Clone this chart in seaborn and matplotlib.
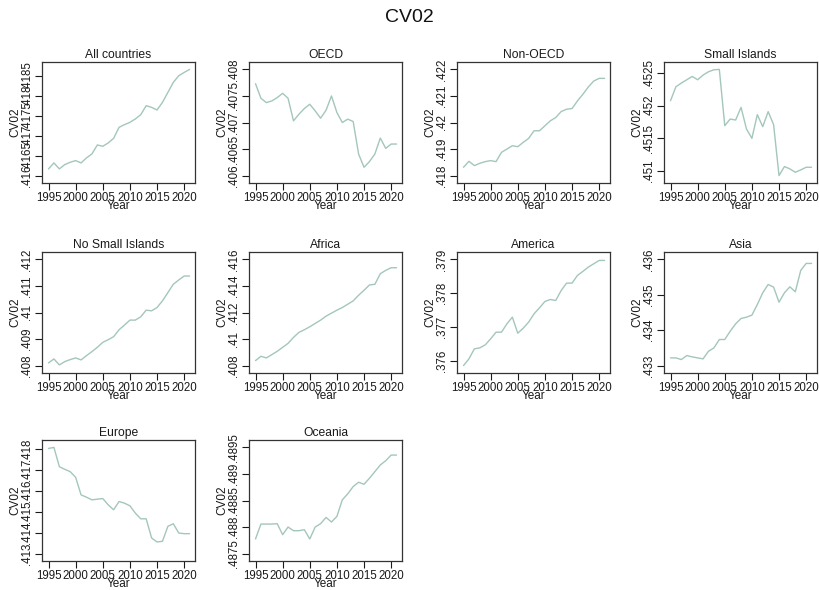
import pandas as pd
import seaborn as sns
import matplotlib
matplotlib.use("Agg")
import matplotlib.pyplot as plt
from matplotlib.ticker import FuncFormatter

years = list(range(1995, 2022))

all_countries = [.416167, .416317, .416167, .416275, .416333, .416375, .416317, .416442, .416542,
                 .416767, .416733, .416817, .416933, .417208, .417275, .417333, .417417, .417525,
                 .41775, .417708, .417642, .417833, .418083, .418333, .4185, .418583, .418658]
oecd = [.407731, .407456, .407375, .407406, .407469, .40755, .407456, .407031, .407156,
        .407263, .407344, .407219, .407081, .407231, .4075, .407188, .407, .407063,
        .407019, .406406, .406156, .406263, .406406, .406706, .406513, .406594, .406594]
non_oecd = [.418313, .418538, .418375, .418463, .418525, .418563, .418525, .418875, .419,
            .419125, .419088, .41925, .4194, .419688, .419688, .419875, .420063, .420188,
            .420413, .4205, .420525, .420813, .421063, .421338, .421563, .421663, .421663]
small_islands = [.452077, .452292, .452349, .4524, .452451, .4524, .452472, .452523, .452554,
                 .452559, .451692, .451795, .451779, .451974, .451641, .451497, .451862, .451677,
                 .451908, .451708, .450923, .451062, .451026, .450974, .45101, .451051, .451051]
no_small_islands = [.4081, .40825, .408025, .40815, .408225, .408288, .408213, .408375, .408525,
                    .408688, .408875, .408975, .409088, .40935, .409525, .409713, .409713, .409838,
                    .410088, .410063, .410188, .410438, .41075, .411063, .411225, .411375, .411375]
africa = [.408375, .4087, .408575, .408825, .409075, .409375, .409675, .410125, .4105,
          .4107, .410925, .411175, .411425, .411725, .41195, .412175, .412375, .412625,
          .412875, .4133, .413675, .414075, .414125, .414925, .415175, .415375, .415375]
america = [.375851, .37605, .376347, .376376, .376465, .376644, .376842, .376842, .377089,
           .377287, .376812, .37696, .377139, .377386, .377564, .377752, .377812, .377782,
           .378079, .378297, .378297, .378525, .378644, .378772, .378871, .37897, .37897]
asia = [.433217, .433217, .43317, .433283, .433245, .433217, .433189, .433406, .4335,
        .433736, .433736, .433972, .434179, .43433, .434368, .434425, .434726, .435057,
        .435292, .435217, .434792, .435057, .435226, .435085, .435689, .435887, .435887]
europe = [.418048, .418096, .41717, .417045, .416933, .416662, .415818, .415707, .41558,
          .415611, .415643, .415341, .415102, .4155, .41542, .415293, .414943, .41467,
          .41467, .413748, .413557, .413589, .414306, .414433, .413987, .413955, .413955]
oceania = [.487775, .488056, .488056, .488056, .488063, .487856, .488, .487931, .487931,
           .48795, .487775, .488, .488063, .488181, .488094, .4882, .488513, .488625,
           .488763, .488844, .488806, .488919, .489044, .489169, .48925, .489356, .489356]

titles = ["All countries", "OECD", "Non-OECD", "Small Islands", "No Small Islands",
          "Africa", "America", "Asia", "Europe", "Oceania"]
series = [all_countries, oecd, non_oecd, small_islands, no_small_islands,
          africa, america, asia, europe, oceania]
yticks = [
    [.416, .4165, .417, .4175, .418, .4185],
    [.406, .4065, .407, .4075, .408],
    [.418, .419, .42, .421, .422],
    [.451, .4515, .452, .4525],
    [.408, .409, .41, .411, .412],
    [.408, .41, .412, .414, .416],
    [.376, .377, .378, .379],
    [.433, .434, .435, .436],
    [.413, .414, .415, .416, .417, .418],
    [.4875, .488, .4885, .489, .4895],
]
xticks = [1995, 2000, 2005, 2010, 2015, 2020]

sns.set_theme(style="white")
plt.rcParams["font.family"] = ["Liberation Sans", "DejaVu Sans"]

fig = plt.figure(figsize=(8.19, 5.9), dpi=100)
fig.suptitle("CV02", fontsize=14, y=0.985, color="#111111")

W, H = 819, 590
col_left = [42, 249, 457, 664]
row_top = [62, 252, 440]
aw, ah = 153, 121
line_color = "#a3c6bd"
txt = "#1a1a1a"


def stata_fmt(v, pos):
    s = ("%.5f" % v).rstrip("0").rstrip(".")
    return s.replace("0.", ".", 1)


for i, (title, vals, ticks) in enumerate(zip(titles, series, yticks)):
    r, c = divmod(i, 4)
    ax = fig.add_axes([col_left[c] / W, 1 - (row_top[r] + ah) / H, aw / W, ah / H])
    df = pd.DataFrame({"Year": years, "CV02": vals})
    sns.lineplot(data=df, x="Year", y="CV02", ax=ax, color=line_color, linewidth=1)
    lo = min(ticks[0], min(vals))
    hi = max(ticks[-1], max(vals))
    pad = 0.07 * (hi - lo)
    ax.set_ylim(lo - pad, hi + pad)
    ax.set_xlim(1993.8, 2022)
    ax.set_xticks(xticks)
    ax.set_yticks(ticks)
    ax.yaxis.set_major_formatter(FuncFormatter(stata_fmt))
    ax.tick_params(axis="both", direction="out", length=5, width=0.8, labelsize=8.3,
                   pad=1.5, colors=txt, left=True, bottom=True)
    for lab in ax.get_yticklabels():
        lab.set_rotation(90)
        lab.set_va("center")
    for sp in ax.spines.values():
        sp.set_color("#333333")
        sp.set_linewidth(0.9)
    ax.set_title(title, fontsize=8.7, pad=3, color=txt)
    ax.set_xlabel("Year", fontsize=8.5, labelpad=-3, color=txt)
    ax.set_ylabel("CV02", fontsize=8.5, labelpad=0, color=txt)

fig.savefig("out.png", dpi=100)
